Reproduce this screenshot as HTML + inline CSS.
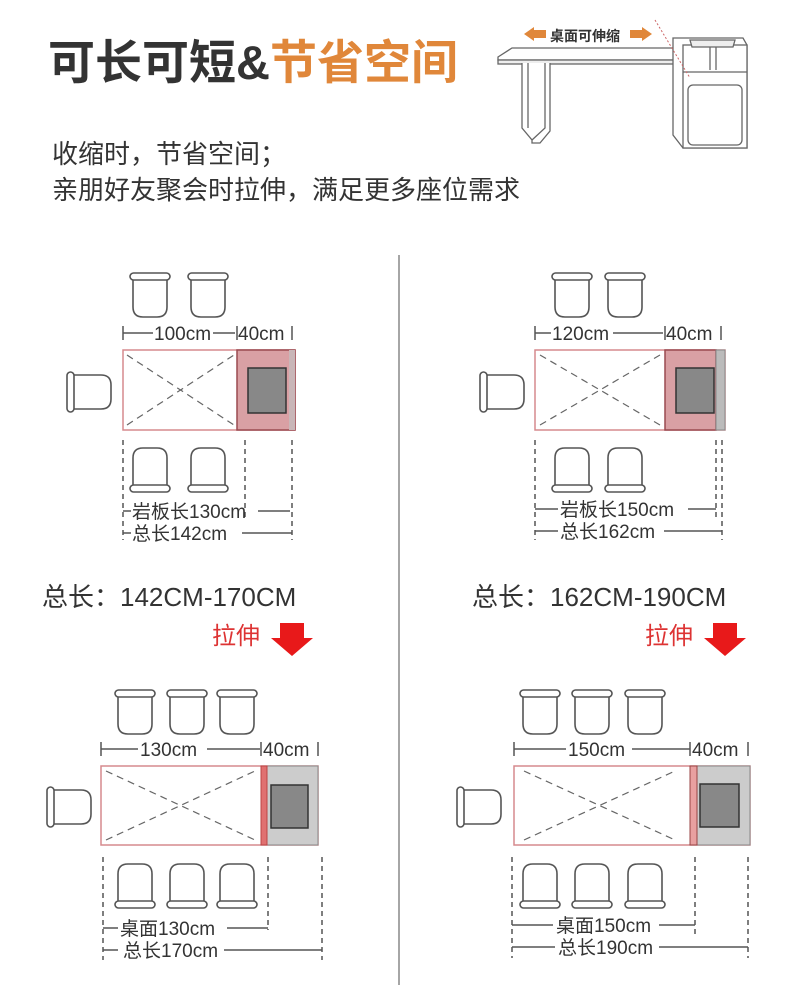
<!DOCTYPE html>
<html><head><meta charset="utf-8"><style>
html,body{margin:0;padding:0;background:#fff}
svg{display:block}
text{font-family:"Liberation Sans","Noto Sans CJK SC",sans-serif}
</style></head><body>
<svg width="790" height="1004" viewBox="0 0 790 1004" xmlns="http://www.w3.org/2000/svg">
<defs>
<g id="c" fill="#fff" stroke="#555" stroke-width="1.6">
<path d="M3,6 V34 Q3,44 13,44 H27 Q37,44 37,34 V6"/>
<rect x="0" y="0" width="40" height="7" rx="3.5"/>
</g>
</defs>
<!-- Title -->
<text x="48" y="79" font-size="47" font-weight="bold" fill="#333">可长可短&amp;<tspan fill="#e0873a">节省空间</tspan></text>
<text x="52" y="163" font-size="26" fill="#333">收缩时，节省空间；</text>
<text x="52" y="199" font-size="26" fill="#333">亲朋好友聚会时拉伸，满足更多座位需求</text>

<!-- desk illustration -->
<g stroke="#666" stroke-width="1.3" fill="#fff">
<path d="M498,57 L512,48 L683,48 L683,60 L498,60 Z"/>
<rect x="498" y="60" width="185" height="4" fill="#eee"/>
<path d="M522,63 V128 L532,140 V143 H540 L550,131 V63"/>
<path d="M528,63 V128 M545,63 V128 L532,140"/>
<path d="M673,38 L743,38 L747,45 L747,148 L683,148 L673,135 Z"/>
<rect x="683" y="45" width="64" height="103"/>
<rect x="688" y="85" width="54" height="60" rx="5"/>
<path d="M710,45 V70 M716,45 V70 M683,72 H747"/>
<path d="M690,40 H735 L733,47 H692 Z" fill="#eee"/>
</g>
<path d="M655,20 L690,78" stroke="#c66" stroke-dasharray="2,2"/>
<path d="M524,34 L534,27 V30 H546 V38 H534 V41 Z M652,34 L642,27 V30 H630 V38 H642 V41 Z" fill="#e0873a"/>
<text x="550" y="41" font-size="14" font-weight="bold" fill="#333">桌面可伸缩</text>

<!-- divider -->
<line x1="399" y1="255" x2="399" y2="985" stroke="#888" stroke-width="1.5"/>

<!-- ===== Top-left ===== -->
<use href="#c" x="130" y="273"/><use href="#c" x="188" y="273"/>
<g transform="translate(130,492) scale(1,-1)"><use href="#c"/></g>
<g transform="translate(188,492) scale(1,-1)"><use href="#c"/></g>
<g transform="translate(67,412) rotate(-90)"><use href="#c"/></g>
<rect x="123" y="350" width="172" height="80" fill="#fff" stroke="#d58a8d" stroke-width="1.5"/>
<path d="M127,355 L234,425 M127,425 L234,355" stroke="#666" stroke-dasharray="7,5" stroke-width="1.2"/>
<rect x="237" y="350" width="58" height="80" fill="#d9a0a4" stroke="#9a4a50" stroke-width="1.5"/>
<rect x="289" y="350" width="6" height="80" fill="#c9b6b8"/>
<rect x="248" y="368" width="38" height="45" fill="#888" stroke="#333" stroke-width="1.5"/>
<g stroke="#555" stroke-width="1.5" fill="none">
<path d="M123,333 H153 M213,333 H235"/>
<path d="M123,326 V340 M237,326 V340 M292,326 V340"/>
<path d="M123,440 V540 M245,440 V520 M292,440 V540" stroke-dasharray="5,4"/>
<path d="M123,511 H131 M258,511 H290 M123,533 H131 M242,533 H292"/>
</g>
<text x="154" y="340" font-size="19" fill="#333">100cm</text>
<text x="238" y="340" font-size="19" fill="#333">40cm</text>
<text x="132" y="518" font-size="19" fill="#333">岩板长130cm</text>
<text x="132" y="540" font-size="19" fill="#333">总长142cm</text>

<!-- ===== Top-right ===== -->
<use href="#c" x="552" y="273"/><use href="#c" x="605" y="273"/>
<g transform="translate(552,492) scale(1,-1)"><use href="#c"/></g>
<g transform="translate(605,492) scale(1,-1)"><use href="#c"/></g>
<g transform="translate(480,412) rotate(-90)"><use href="#c"/></g>
<rect x="535" y="350" width="190" height="80" fill="#fff" stroke="#d58a8d" stroke-width="1.5"/>
<path d="M540,355 L660,425 M540,425 L660,355" stroke="#666" stroke-dasharray="7,5" stroke-width="1.2"/>
<rect x="665" y="350" width="51" height="80" fill="#d9a0a4" stroke="#9a4a50" stroke-width="1.5"/>
<rect x="716" y="350" width="9" height="80" fill="#bbb" stroke="#888"/>
<rect x="676" y="368" width="38" height="45" fill="#888" stroke="#333" stroke-width="1.5"/>
<g stroke="#555" stroke-width="1.5" fill="none">
<path d="M535,333 H551 M613,333 H663"/>
<path d="M535,326 V340 M665,326 V340 M721,326 V340"/>
<path d="M535,440 V540 M716,440 V520 M722,440 V540" stroke-dasharray="5,4"/>
<path d="M535,509 H558 M688,509 H716 M535,531 H558 M664,531 H722"/>
</g>
<text x="552" y="340" font-size="19" fill="#333">120cm</text>
<text x="666" y="340" font-size="19" fill="#333">40cm</text>
<text x="560" y="516" font-size="19" fill="#333">岩板长150cm</text>
<text x="560" y="538" font-size="19" fill="#333">总长162cm</text>

<!-- labels -->
<text x="42" y="606" font-size="26" fill="#333">总长：142CM-170CM</text>
<text x="472" y="606" font-size="26" fill="#333">总长：162CM-190CM</text>
<text x="212" y="644" font-size="24" fill="#d33">拉伸</text>
<text x="645" y="644" font-size="24" fill="#d33">拉伸</text>
<path d="M280,623 H304 V638 H313 L292,656 L271,638 H280 Z" fill="#e8191a"/>
<path d="M713,623 H737 V638 H746 L725,656 L704,638 H713 Z" fill="#e8191a"/>

<!-- ===== Bottom-left ===== -->
<use href="#c" x="115" y="690"/><use href="#c" x="167" y="690"/><use href="#c" x="217" y="690"/>
<g transform="translate(115,908) scale(1,-1)"><use href="#c"/></g>
<g transform="translate(167,908) scale(1,-1)"><use href="#c"/></g>
<g transform="translate(217,908) scale(1,-1)"><use href="#c"/></g>
<g transform="translate(47,827) rotate(-90)"><use href="#c"/></g>
<rect x="101" y="766" width="217" height="79" fill="#fff" stroke="#d58a8d" stroke-width="1.5"/>
<path d="M106,771 L255,840 M106,840 L255,771" stroke="#666" stroke-dasharray="7,5" stroke-width="1.2"/>
<rect x="267" y="766" width="51" height="79" fill="#ccc" stroke="#888"/>
<rect x="261" y="766" width="6" height="79" fill="#e07070" stroke="#b44"/>
<rect x="271" y="785" width="37" height="43" fill="#888" stroke="#333" stroke-width="1.5"/>
<g stroke="#555" stroke-width="1.5" fill="none">
<path d="M101,749 H138 M207,749 H260"/>
<path d="M101,742 V756 M261,742 V756 M318,742 V756"/>
<path d="M103,857 V960 M268,857 V930 M322,857 V960" stroke-dasharray="5,4"/>
<path d="M103,928 H118 M227,928 H268 M103,950 H118 M224,950 H322"/>
</g>
<text x="140" y="756" font-size="19" fill="#333">130cm</text>
<text x="263" y="756" font-size="19" fill="#333">40cm</text>
<text x="120" y="935" font-size="19" fill="#333">桌面130cm</text>
<text x="123" y="957" font-size="19" fill="#333">总长170cm</text>

<!-- ===== Bottom-right ===== -->
<use href="#c" x="520" y="690"/><use href="#c" x="572" y="690"/><use href="#c" x="625" y="690"/>
<g transform="translate(520,908) scale(1,-1)"><use href="#c"/></g>
<g transform="translate(572,908) scale(1,-1)"><use href="#c"/></g>
<g transform="translate(625,908) scale(1,-1)"><use href="#c"/></g>
<g transform="translate(457,827) rotate(-90)"><use href="#c"/></g>
<rect x="514" y="766" width="236" height="79" fill="#fff" stroke="#d58a8d" stroke-width="1.5"/>
<path d="M524,771 L675,840 M524,840 L675,771" stroke="#666" stroke-dasharray="7,5" stroke-width="1.2"/>
<rect x="697" y="766" width="53" height="79" fill="#ccc" stroke="#888"/>
<rect x="690" y="766" width="7" height="79" fill="#e8a0a0" stroke="#944"/>
<rect x="700" y="784" width="39" height="43" fill="#888" stroke="#333" stroke-width="1.5"/>
<g stroke="#555" stroke-width="1.5" fill="none">
<path d="M514,749 H566 M632,749 H690"/>
<path d="M514,742 V756 M690,742 V756 M748,742 V756"/>
<path d="M512,857 V958 M695,857 V935 M748,857 V958" stroke-dasharray="5,4"/>
<path d="M512,925 H553 M659,925 H695 M512,947 H555 M659,947 H748"/>
</g>
<text x="568" y="756" font-size="19" fill="#333">150cm</text>
<text x="692" y="756" font-size="19" fill="#333">40cm</text>
<text x="556" y="932" font-size="19" fill="#333">桌面150cm</text>
<text x="558" y="954" font-size="19" fill="#333">总长190cm</text>
</svg>
</body></html>
